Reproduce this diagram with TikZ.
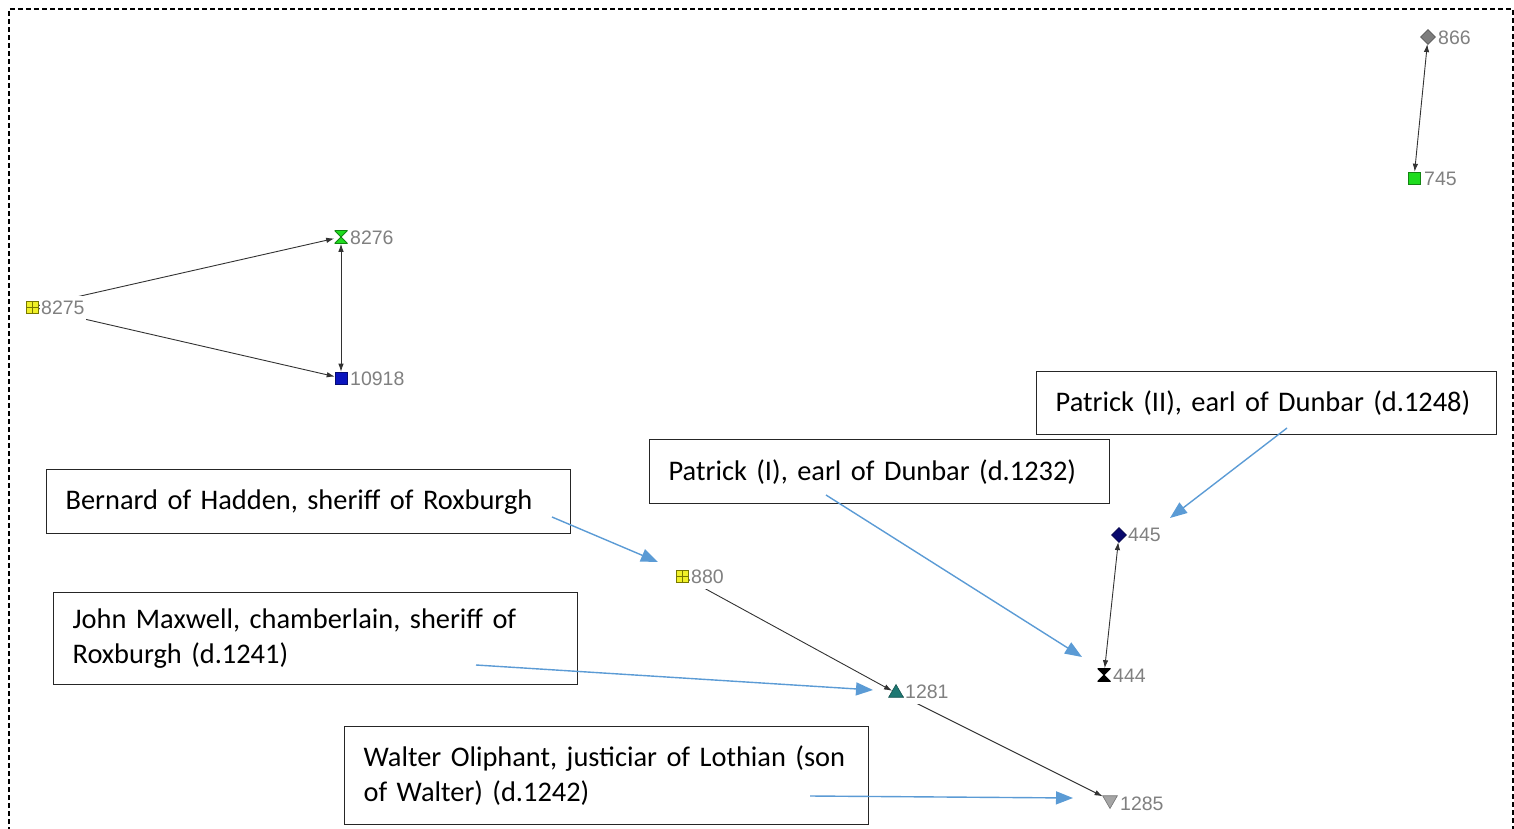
\documentclass[tikz,border=0pt]{standalone}
\usepackage{fontspec}
\setmainfont{Carlito}
\newfontfamily\idfont{Liberation Sans}
\usetikzlibrary{arrows.meta,shapes.geometric,backgrounds}

\definecolor{calblue}{RGB}{91,155,213}
\definecolor{idgray}{RGB}{128,128,128}
\definecolor{edgegray}{RGB}{50,50,50}
\definecolor{mkyellow}{RGB}{240,240,40}
\definecolor{mkolive}{RGB}{120,120,0}
\definecolor{mkgreen}{RGB}{30,220,30}
\definecolor{mkblue}{RGB}{10,20,190}
\definecolor{mknavy}{RGB}{10,10,110}
\definecolor{mkteal}{RGB}{30,120,115}
\definecolor{mkgray}{RGB}{125,125,125}
\definecolor{mklgray}{RGB}{165,165,165}

\tikzset{
  mk/.style={inner sep=0pt, minimum size=12pt, line width=0.6pt},
  sqmark/.style={mk, rectangle, draw=#1!60!black, fill=#1},
  gridmark/.style={mk, rectangle, draw=mkolive, fill=mkyellow,
    path picture={\draw[mkolive, line width=0.7pt]
      (path picture bounding box.north) -- (path picture bounding box.south)
      (path picture bounding box.west) -- (path picture bounding box.east);}},
  diamark/.style={mk, diamond, minimum size=15pt, draw=#1!70!black, fill=#1},
  triup/.style={mk, regular polygon, regular polygon sides=3, minimum size=17pt,
    draw=#1!70!black, fill=#1},
  tridown/.style={mk, regular polygon, regular polygon sides=3, minimum size=17pt,
    shape border rotate=180, draw=#1!70!black, fill=#1},
  hourglass/.style={mk, rectangle, minimum size=13pt,
    path picture={\filldraw[fill=#1, draw=#1!60!black, line width=0.8pt]
      (path picture bounding box.north west) -- (path picture bounding box.north east)
      -- (path picture bounding box.south west) -- (path picture bounding box.south east)
      -- cycle;}},
  idlabel/.style={anchor=west, fill=white, inner xsep=1pt, inner ysep=5pt, text=idgray,
    font=\idfont\fontsize{19.5pt}{22pt}\selectfont},
  edge/.style={draw=edgegray, line width=0.9pt, -{Latex[length=8pt,width=5.5pt]}},
  edgeboth/.style={draw=edgegray, line width=0.9pt,
    {Latex[length=8pt,width=5.5pt]}-{Latex[length=8pt,width=5.5pt]}},
  notebox/.style={draw=black!85, line width=1.3pt, fill=white, anchor=north west,
    inner xsep=19pt, inner ysep=0pt, align=left,
    font=\fontsize{28.4pt}{35.5pt}\selectfont},
  callout/.style={draw=calblue, line width=1.4pt,
    -{Triangle[length=17pt,width=13pt]}}
}

\begin{document}
\begin{tikzpicture}[x=1pt,y=-1pt]
\useasboundingbox (0,0) rectangle (1514,829);
\clip (0,0) rectangle (1514,829);

% frame
\draw[dash pattern=on 5pt off 3pt, line width=1.4pt]
  (9,840) -- (9,9) -- (1513,9) -- (1513,840);

% network markers
\node[diamark=mkgray]   (m866)   at (1428,37)  {};
\node[sqmark=mkgreen]   (m745)   at (1414,178) {};
\node[hourglass=mkgreen] (m8276) at (341,237)  {};
\node[gridmark]         (m8275)  at (32,307)   {};
\node[sqmark=mkblue]    (m10918) at (341,378)  {};
\node[gridmark]         (m880)   at (682,576)  {};
\node[triup=mkteal]     (m1281)  at (896,693)  {};
\node[tridown=mklgray]  (m1285)  at (1110,800) {};
\node[diamark=mknavy]   (m445)   at (1119,535) {};
\node[hourglass=black]  (m444)   at (1104,675) {};

% identifiers beside the markers
\node[idlabel] (l866)   at (1437,38)  {866};
\node[idlabel] (l745)   at (1423,179) {745};
\node[idlabel] (l8276)  at (349,238)  {8276};
\node[idlabel] (l8275)  at (40,308)   {8275};
\node[idlabel] (l10918) at (349,379)  {10918};
\node[idlabel] (l880)   at (690,577)  {880};
\node[idlabel] (l1281)  at (904,692)  {1281};
\node[idlabel] (l1285)  at (1119,804) {1285};
\node[idlabel] (l445)   at (1127,535) {445};
\node[idlabel] (l444)   at (1112,676) {444};

% ties between the markers, kept under the identifiers
\begin{pgfonlayer}{background}
  \draw[edgeboth] (m866) -- (m745);
  \draw[edge] (m8275) -- (m8276);
  \draw[edge] (m8275) -- (m10918);
  \draw[edgeboth] (m8276) -- (m10918);
  \draw[edge] (m880) -- (m1281);
  \draw[edge] (m1281) -- (m1285);
  \draw[edgeboth] (m445) -- (m444);
\end{pgfonlayer}

% name boxes
\node[notebox, text width=422pt, minimum height=63pt] (pat2) at (1036,371)
  {\mbox{Patrick (II), earl of Dunbar (d.1248)}};
\node[notebox, text width=422pt, minimum height=64pt] (pat1) at (649,439)
  {\mbox{Patrick (I), earl of Dunbar (d.1232)}};
\node[notebox, text width=486pt, minimum height=64pt] (bern) at (46,469)
  {\mbox{Bernard of Hadden, sheriff of Roxburgh}};
\node[notebox, text width=486pt, minimum height=92pt] (john) at (53,592)
  {\mbox{John Maxwell, chamberlain, sheriff of}\\\mbox{Roxburgh (d.1241)}};
\node[notebox, text width=486pt, minimum height=98pt] (walt) at (344,726)
  {\mbox{Walter Oliphant, justiciar of Lothian (son}\\\mbox{of Walter) (d.1242)}};

% call-out arrows
\coordinate (sPat2) at (1287,428);  \coordinate (tPat2) at (1170,518);
\coordinate (sPat1) at (826,495);   \coordinate (tPat1) at (1082,657);
\coordinate (sBern) at (552,517);   \coordinate (tBern) at (658,562);
\coordinate (sJohn) at (476,665);   \coordinate (tJohn) at (873,690);
\coordinate (sWalt) at (810,796);   \coordinate (tWalt) at (1073,798);
\draw[callout] (sPat2) -- (tPat2);
\draw[callout] (sPat1) -- (tPat1);
\draw[callout] (sBern) -- (tBern);
\draw[callout] (sJohn) -- (tJohn);
\draw[callout] (sWalt) -- (tWalt);
\end{tikzpicture}
\end{document}
